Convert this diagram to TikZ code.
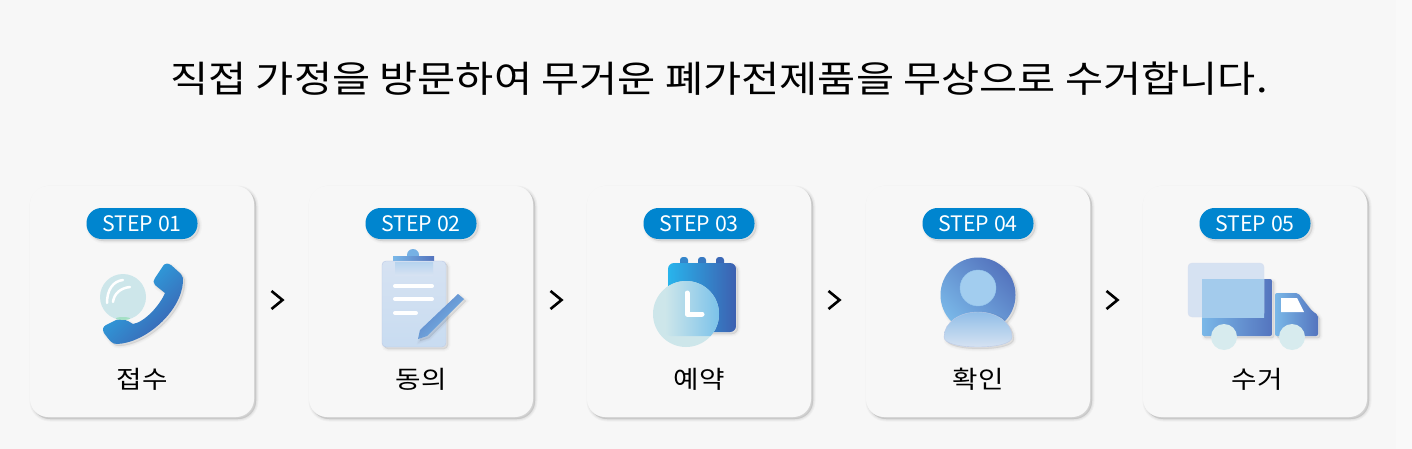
\documentclass[tikz,border=0pt]{standalone}
\usepackage{xcolor}
\usepackage{fontspec}
\setmainfont{Noto Sans CJK KR}
\newfontfamily\widefont[FakeStretch=1.13]{Noto Sans CJK KR}
\definecolor{pagegray}{RGB}{247, 247, 247}
\definecolor{stepblue}{RGB}{0, 133, 207}
\definecolor{skyblue}{RGB}{40, 180, 236}
\definecolor{deepblue}{RGB}{61, 96, 176}
\definecolor{midblue}{RGB}{122, 184, 232}
\definecolor{slateblue}{RGB}{84, 116, 190}
\definecolor{glassteal}{RGB}{205, 230, 234}
\definecolor{glassblue}{RGB}{214, 226, 242}
\definecolor{edgeblue}{RGB}{188, 202, 230}
\usetikzlibrary{positioning}

\begin{document}
\begin{tikzpicture}[
    x=1pt,y=1pt,
    shadowlayer/.style 2 args={
        preaction={draw=black,fill=black,line width=#1,opacity=#2,transform canvas={shift={(2pt,-2pt)}}}
    },
    softshadow/.style={
        shadowlayer={5pt}{0.02},
        shadowlayer={3pt}{0.025},
        shadowlayer={1pt}{0.03}
    },
    cardshadow/.style={
        shadowlayer={5pt}{0.03},
        shadowlayer={3pt}{0.035},
        shadowlayer={1pt}{0.04}
    },
    card/.style={
        rectangle,
        rounded corners=18pt,
        minimum width=224pt,
        minimum height=231pt,
        cardshadow,
        fill=pagegray
    },
    badge/.style={
        rectangle,
        rounded corners=15pt,
        minimum width=111pt,
        minimum height=31pt,
        inner sep=0pt,
        softshadow,
        fill=stepblue,
        text=white,
        font=\fontsize{21.3}{24}\selectfont
    },
    steplabel/.style={
        inner sep=0pt,
        font=\widefont\fontsize{24.5}{30}\selectfont
    },
    chevron/.style={line width=2.6pt,line join=miter,black},
    whiteline/.style={white,line width=4pt,line cap=round},
    calendarfill/.style={left color=skyblue,right color=deepblue}
]
    \useasboundingbox (0,-449) rectangle (1412,0);
    \fill[pagegray] (0,-449) rectangle (1412,0);
    \fill[white,opacity=0.3] (1396,-449) rectangle (1412,0);

    % Title
    \node[inner sep=0pt,font=\widefont\fontsize{36.7}{44}\selectfont] (title) at (719,-79) {직접 가정을 방문하여 무거운 폐가전제품을 무상으로 수거합니다.};

    % Steps
    \foreach \n/\x/\lx/\lab in {1/142/142/접수,2/421/421/동의,3/699/699/예약,4/978/978/확인,5/1255/1257/수거}{
        \node[card] (card\n) at (\x,-301.5) {};
        \node[badge,below=22pt of card\n.north] (badge\n) {STEP 0\n};
        \node[steplabel] (label\n) at (\lx,-379) {\lab};
    }

    % Chevrons between the cards
    \foreach \x in {277,556,834,1112}{
        \draw[chevron] (\x-5.5,-291) -- (\x+5.5,-300) -- (\x-5.5,-309);
    }

    % Phone
    \path[softshadow,left color=skyblue,middle color=skyblue!60!deepblue,right color=deepblue,shading angle=45]
        (163,-266) .. controls (165,-263) and (168,-263) .. (171,-265)
        -- (181,-274) .. controls (183,-276) and (183,-279) .. (183,-282)
        .. controls (181,-312) and (145,-343) .. (117,-344)
        .. controls (112,-344) and (110,-341) .. (104,-333)
        .. controls (102,-329) and (103,-327) .. (106,-325)
        -- (116,-320) .. controls (122,-318) and (127,-320) .. (133,-324)
        .. controls (145,-322) and (160,-305) .. (165,-293)
        -- (155,-285) .. controls (153,-283) and (153,-280) .. (155,-278) -- cycle;
    \fill[glassteal] (123,-297) circle (23);
    \fill[green!60!teal,opacity=0.2] (123,-318.5) ellipse (7 and 1.5);
    \draw[white,line width=2.5pt,line cap=round] (107,-303) .. controls (107,-290) and (113,-281) .. (123,-280);
    \draw[white,line width=2.5pt,line cap=round] (113,-302) .. controls (114,-294) and (120,-288) .. (130,-287);

    % Clipboard
    \fill[midblue!90!slateblue] (413,-255) circle (6);
    \fill[left color=midblue,right color=slateblue] (393,-256) rectangle (434,-263);
    \draw[softshadow,edgeblue,top color=glassblue,bottom color=glassblue!85!midblue,rounded corners=4pt]
        (382,-261) rectangle (446,-347);
    \fill[top color=midblue!35!glassblue,bottom color=glassblue] (395,-262) rectangle (433,-275);
    \draw[whiteline] (395,-286) -- (432,-286);
    \draw[whiteline] (395,-299) -- (432,-299);
    \draw[whiteline] (395,-313) -- (416,-313);
    \path[softshadow,left color=slateblue!80!midblue,right color=midblue,shading angle=45]
        (418,-339) -- (420,-330) -- (458,-294) -- (464,-299) -- (427,-336) -- cycle;

    % Calendar
    \fill[skyblue!45!deepblue,rounded corners=3pt] (680,-257) rectangle (688,-270);
    \fill[skyblue!30!deepblue,rounded corners=3pt] (698,-257) rectangle (706,-270);
    \fill[deepblue!90!skyblue,rounded corners=3pt] (716,-257) rectangle (724,-270);
    \path[softshadow,calendarfill,rounded corners=6pt] (668,-263) rectangle (736,-332);
    \fill[glassteal] (686,-314) circle (33);
    \begin{scope}
        \clip (686,-314) circle (33);
        \path[left color=glassteal,right color=midblue!70!skyblue,rounded corners=6pt] (665,-263) rectangle (736,-336);
    \end{scope}
    \draw[white,line width=5pt,line cap=round,line join=round] (687,-293) -- (687,-314) -- (702,-314);

    % Person
    \path[softshadow,left color=midblue,right color=slateblue,shading angle=135] (978,-295) circle (37.5);
    \draw[midblue!80!white,fill=midblue!70!white] (978,-288) circle (18);
    \draw[softshadow,edgeblue,top color=midblue!65!edgeblue,bottom color=glassblue]
        (944,-337) .. controls (944,-322) and (960,-312) .. (978,-312)
        .. controls (996,-312) and (1012,-322) .. (1012,-337)
        .. controls (1012,-344) and (995,-347) .. (978,-347)
        .. controls (961,-347) and (944,-344) .. (944,-337) -- cycle;

    % Truck
    \path[softshadow,left color=midblue,right color=slateblue,rounded corners=2pt] (1202,-279) rectangle (1272,-336);
    \path[softshadow,left color=midblue,right color=slateblue,rounded corners=2pt]
        (1275,-293) -- (1298,-293) -- (1312,-311) -- (1318,-315) -- (1318,-336) -- (1275,-336) -- cycle;
    \fill[white] (1281,-298) -- (1297,-298) -- (1304,-312) -- (1281,-312) -- cycle;
    \draw[edgeblue!60!white,fill=glassblue,rounded corners=4pt] (1188,-263) rectangle (1264,-317);
    \begin{scope}
        \clip (1188,-263) rectangle (1264,-317);
        \fill[midblue!55!glassblue] (1202,-279) rectangle (1272,-336);
    \end{scope}
    \fill[glassteal!80!white] (1224,-337) circle (13);
    \fill[glassteal!80!white] (1292,-337) circle (13);
\end{tikzpicture}
\end{document}
